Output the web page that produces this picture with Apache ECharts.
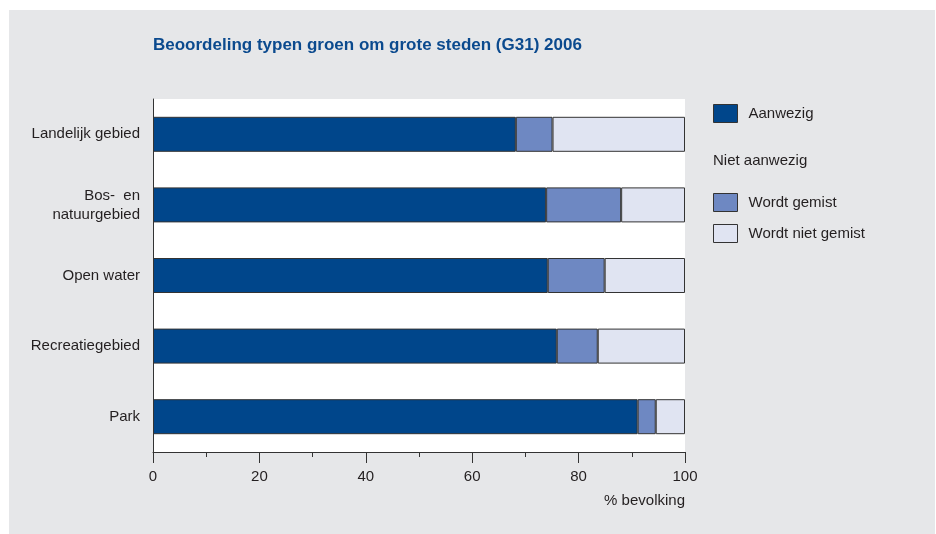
<!DOCTYPE html>
<html>
<head>
<meta charset="utf-8">
<script src="https://cdn.jsdelivr.net/npm/echarts@6/dist/echarts.min.js"></script>
<style>
  html, body { margin: 0; padding: 0; background: #ffffff; }
  #wrap { position: relative; width: 936px; height: 534px; }
  #bg { position: absolute; left: 9px; top: 10px; right: 1px; bottom: 0; background: #e6e7e9; }
  #chart { position: absolute; left: 0; top: 0; width: 936px; height: 534px; }
</style>
</head>
<body>
<div id="wrap">
  <div id="bg"></div>
  <div id="chart"></div>
</div>
<script>
// categories, top to bottom
var categories = ['Landelijk gebied', 'Bos-  en\nnatuurgebied', 'Open water', 'Recreatiegebied', 'Park'];
// % bevolking
var aanwezig = [68.2, 73.9, 74.2, 75.9, 91.1];
var wordtGemist = [6.9, 14.1, 10.7, 7.7, 3.4];
var wordtNietGemist = [24.9, 12.0, 15.1, 16.4, 5.5];

var colors = {
  aanwezig: '#00468b',
  gemist: '#6e88c2',
  nietGemist: '#e0e4f2'
};

var font = '"Liberation Sans", Arial, sans-serif';
var textColor = '#231f20';

var chart = echarts.init(document.getElementById('chart'), null, { renderer: 'canvas' });

var option = {
  backgroundColor: 'transparent',
  animation: false,
  title: {
    text: 'Beoordeling typen groen om grote steden (G31) 2006',
    left: 153,
    top: 37,
    padding: 0,
    textStyle: { fontFamily: font, fontSize: 17, fontWeight: 'bold', color: '#0b4a8e' }
  },
  legend: [
    {
      data: ['Aanwezig'],
      icon: 'rect',
      left: 713,
      top: 104,
      padding: 0,
      itemWidth: 24,
      itemHeight: 18,
      itemStyle: { borderColor: '#333333', borderWidth: 1 },
      textStyle: { fontFamily: font, fontSize: 15, color: textColor, padding: [0, 0, 0, 6] },
      selectedMode: false
    },
    {
      data: ['Wordt gemist', 'Wordt niet gemist'],
      icon: 'rect',
      orient: 'vertical',
      left: 713,
      top: 193,
      padding: 0,
      itemGap: 12,
      itemWidth: 24,
      itemHeight: 18,
      itemStyle: { borderColor: '#333333', borderWidth: 1 },
      textStyle: { fontFamily: font, fontSize: 15, color: textColor, padding: [0, 0, 0, 6] },
      selectedMode: false
    }
  ],
  graphic: [
    {
      type: 'text',
      left: 713,
      top: 153,
      style: { text: 'Niet aanwezig', fontFamily: font, fontSize: 15, fill: textColor }
    }
  ],
  grid: {
    left: 153,
    right: 251,
    top: 99,
    bottom: 82,
    show: true,
    backgroundColor: '#ffffff',
    borderWidth: 0
  },
  xAxis: {
    type: 'value',
    min: 0,
    max: 100,
    interval: 20,
    name: '% bevolking',
    nameLocation: 'end',
    nameGap: 0,
    nameTextStyle: {
      fontFamily: font, fontSize: 15, color: textColor,
      align: 'right', verticalAlign: 'top', padding: [41, 0, 0, 0]
    },
    axisLine: { show: true, lineStyle: { color: '#333333', width: 1 } },
    axisTick: { show: true, length: 11, lineStyle: { color: '#333333' } },
    minorTick: { show: true, splitNumber: 2, length: 5, lineStyle: { color: '#333333' } },
    axisLabel: { fontFamily: font, fontSize: 15, color: textColor, margin: 17 },
    splitLine: { show: false }
  },
  yAxis: {
    type: 'category',
    data: categories,
    inverse: true,
    axisLine: { show: true, lineStyle: { color: '#333333', width: 1 } },
    axisTick: { show: false },
    axisLabel: {
      fontFamily: font, fontSize: 15, color: textColor, margin: 13,
      align: 'right', lineHeight: 19
    },
    splitLine: { show: false }
  },
  series: [
    {
      name: 'Aanwezig',
      type: 'bar',
      stack: 'total',
      barWidth: 35,
      data: aanwezig,
      itemStyle: { color: colors.aanwezig, borderColor: '#333333', borderWidth: 1 }
    },
    {
      name: 'Wordt gemist',
      type: 'bar',
      stack: 'total',
      barWidth: 35,
      data: wordtGemist,
      itemStyle: { color: colors.gemist, borderColor: '#333333', borderWidth: 1 }
    },
    {
      name: 'Wordt niet gemist',
      type: 'bar',
      stack: 'total',
      barWidth: 35,
      data: wordtNietGemist,
      itemStyle: { color: colors.nietGemist, borderColor: '#333333', borderWidth: 1 }
    }
  ]
};

chart.setOption(option);
</script>
</body>
</html>
